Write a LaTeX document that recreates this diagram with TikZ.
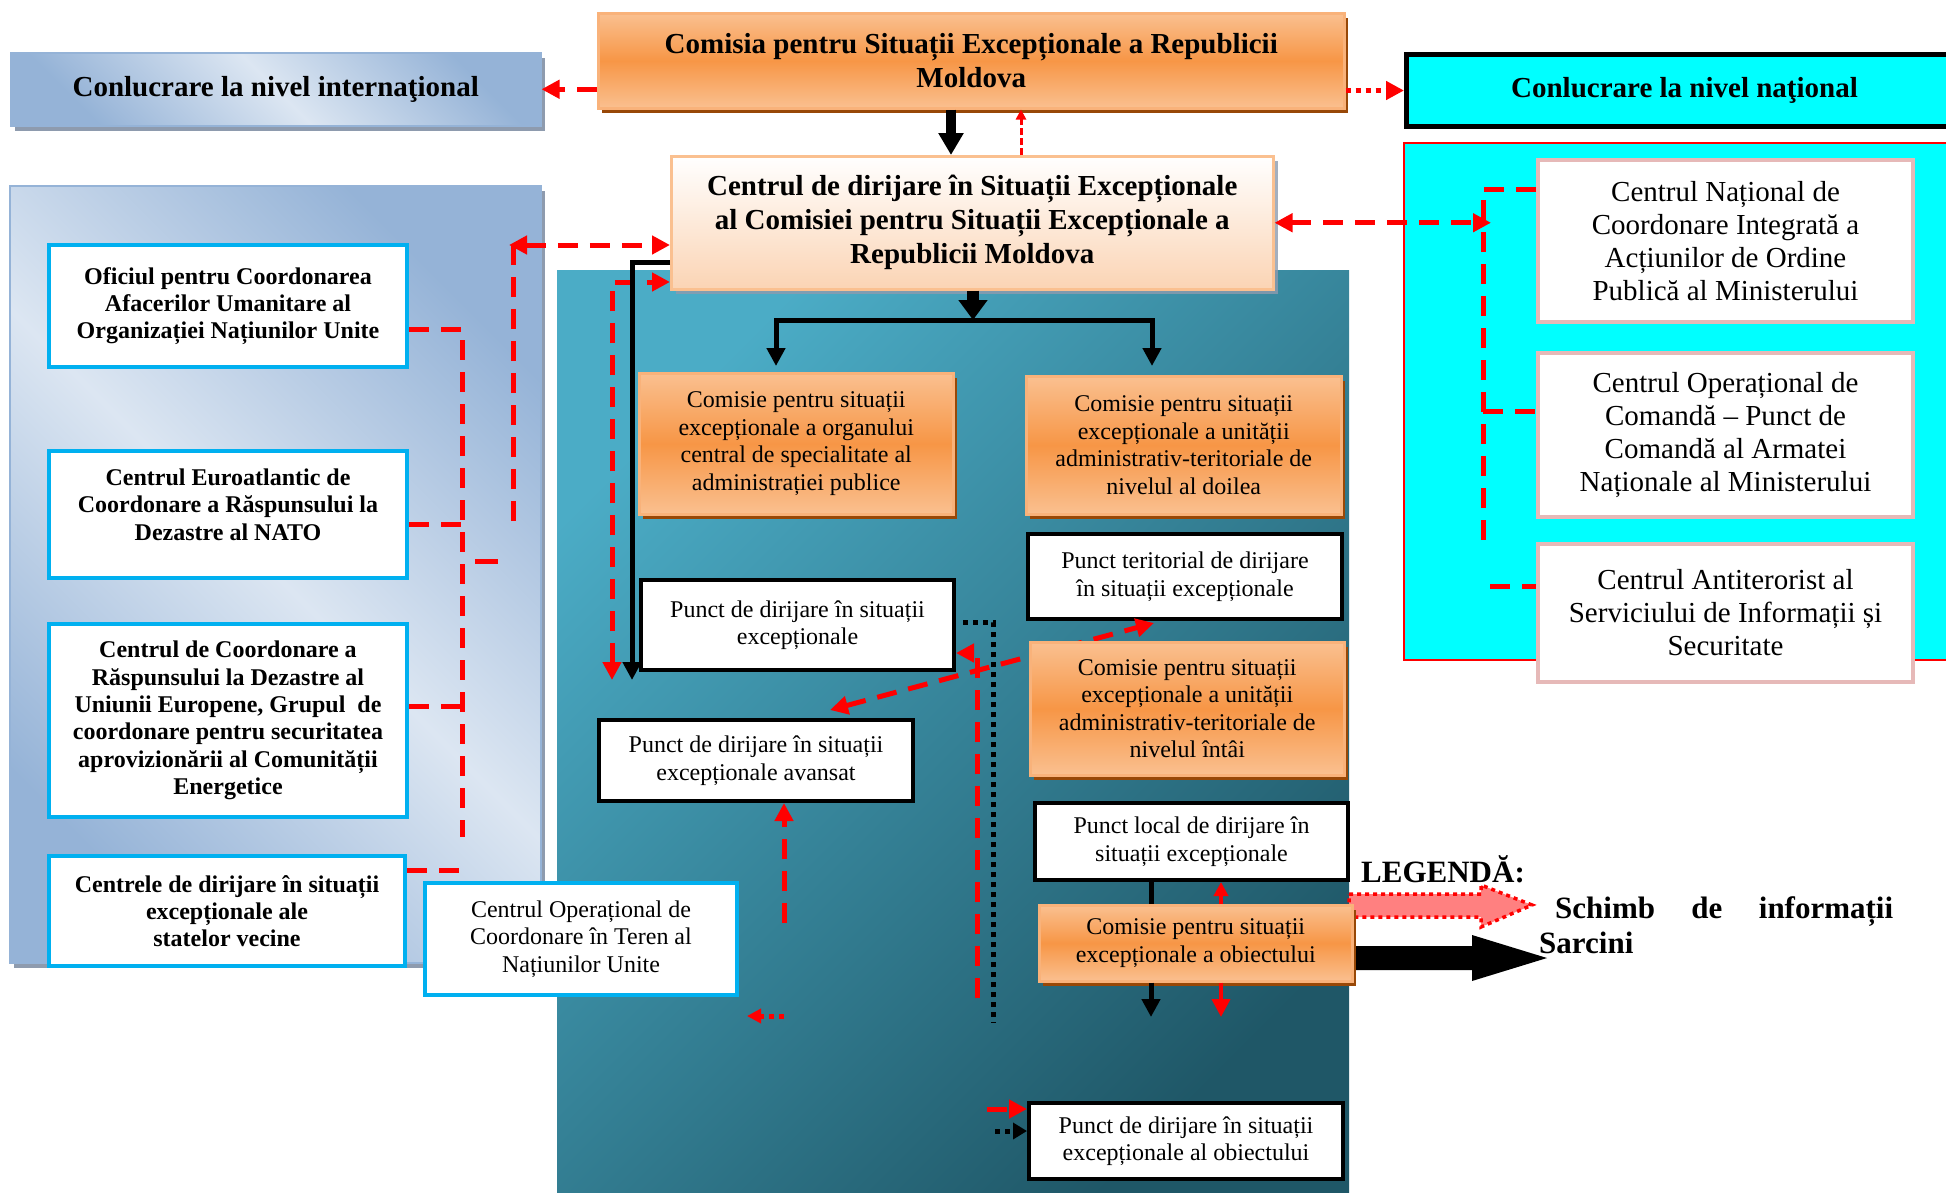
\documentclass[tikz,border=0pt]{standalone}
\usepackage{fontspec}
\setmainfont{Liberation Serif}
\usetikzlibrary{arrows.meta,shadows,calc}
\definecolor{orMid}{HTML}{F79646}
\definecolor{orLight}{HTML}{FAC090}
\definecolor{orLine}{HTML}{F9B27A}
\definecolor{orShadow}{HTML}{984807}
\definecolor{peach}{HTML}{FBD4B4}
\definecolor{bluD}{HTML}{95B3D7}
\definecolor{bluL}{HTML}{DCE6F2}
\definecolor{tealL}{HTML}{4BACC6}
\definecolor{tealD}{HTML}{1F5767}
\definecolor{skyb}{HTML}{00B0F0}
\definecolor{pinkb}{HTML}{E6B9B8}
\definecolor{legred}{HTML}{FF8080}
\definecolor{cyanF}{HTML}{00FFFF}
\definecolor{shadowG}{HTML}{8E9BAE}
\newcommand\myfA{\fontsize{29}{34}\selectfont\bfseries}
\newcommand\myfB{\fontsize{24}{27.5}\selectfont}
\newcommand\myfBb{\fontsize{24}{27.3}\selectfont\bfseries}
\newcommand\myfC{\fontsize{29}{33}\selectfont}
\newcommand\myfL{\fontsize{31}{36}\selectfont\bfseries}
\begin{document}
\begin{tikzpicture}[x=1pt,y=-1pt,
  >={Triangle[length=18pt,width=18pt]},
  every node/.style={inner sep=2pt, align=center},
  nw/.style={anchor=north west},
  orbox/.style={nw, draw=orLine, line width=2.5pt, top color=orLight, bottom color=orLight, middle color=orMid,
     drop shadow={shadow xshift=4pt, shadow yshift=-5pt, fill=orShadow, opacity=1}, font=\myfB},
  whbox/.style={nw, draw=black, line width=4pt, fill=white, font=\myfB},
  skybox/.style={nw, draw=skyb, line width=4pt, fill=white, font=\myfBb},
  pinkbox/.style={nw, draw=pinkb, line width=4pt, fill=white, font=\myfC},
  rdash/.style={draw=red, line width=5pt, dash pattern=on 20pt off 12pt},
  rdot/.style={draw=red, line width=5pt, dash pattern=on 5pt off 5pt},
  kdot/.style={draw=black, line width=5pt, dash pattern=on 5pt off 5pt},
  bluegrad/.style={draw=bluD, line width=1.5pt, top color=bluD, bottom color=bluD, middle color=bluL, shading angle=-45,
     drop shadow={shadow xshift=4pt, shadow yshift=-5pt, fill=shadowG, opacity=1}}
]
\useasboundingbox (0,0) rectangle (1946,1192);
\clip (0,0) rectangle (1946,1192);
\fill[white] (0,0) rectangle (1946,1192);

% regions
\path[top color=tealL, bottom color=tealD, shading angle=45] (557,270) rectangle (1349,1200);
\path[bluegrad] (10,186) rectangle (541,963);
\path[draw=red, line width=2pt, fill=cyanF] (1404,143) rectangle (1960,660);

% top row
\node[nw, bluegrad, minimum width=530pt, minimum height=73pt, font=\myfA] (intl) at (10,52) {Conlucrare la nivel internaţional};
\node[orbox, minimum width=746pt, minimum height=95pt, font=\myfA] (com) at (597,12) {Comisia pentru Situații Excepționale a Republicii\\Moldova};
\node[nw, draw=black, line width=5pt, fill=cyanF, minimum width=556pt, minimum height=72pt, font=\myfA] (nat) at (1404,52) {Conlucrare la nivel naţional};
\node[nw, draw=orLight, line width=2.5pt, top color=white, bottom color=peach,
  drop shadow={shadow xshift=5pt, shadow yshift=-5pt, fill=shadowG, opacity=0.8},
  minimum width=602pt, minimum height=133pt, font=\myfA] (cen) at (670,155)
  {Centrul de dirijare în Situații Excepționale\\al Comisiei pentru Situații Excepționale a\\Republicii Moldova};

% national boxes
\node[pinkbox, minimum width=375pt, minimum height=162pt] (n1) at (1536,158) {Centrul Național de\\Coordonare Integrată a\\Acțiunilor de Ordine\\Publică al Ministerului};
\node[pinkbox, minimum width=375pt, minimum height=164pt] (n2) at (1536,351) {Centrul Operațional de\\Comandă – Punct de\\Comandă al Armatei\\Naționale al Ministerului};
\node[pinkbox, minimum width=375pt, minimum height=138pt] (n3) at (1536,542) {Centrul Antiterorist al\\Serviciului de Informații și\\Securitate};

% left boxes
\node[skybox, minimum width=358pt, minimum height=122pt] (l1) at (47,243) {Oficiul pentru Coordonarea\\Afacerilor Umanitare al\\Organizației Națiunilor Unite};
\node[skybox, minimum width=358pt, minimum height=127pt] (l2) at (47,449) {};
\node[font=\myfBb] (l2t) at ($(l2.center)+(0,-10)$) {Centrul Euroatlantic de\\Coordonare a Răspunsului la\\Dezastre al NATO};
\node[skybox, minimum width=358pt, minimum height=193pt] (l3) at (47,622) {Centrul de Coordonare a\\Răspunsului la Dezastre al\\Uniunii Europene, Grupul\ \ de\\coordonare pentru securitatea\\aprovizionării al Comunității\\Energetice};
\node[skybox, minimum width=356pt, minimum height=110pt] (l4) at (47,854) {Centrele de dirijare în situații\\excepționale ale\\statelor vecine};

% left connectors
\draw[rdash] (l1.east |- 0,329) -- (462,329) -- (462,837);
\draw[rdash] (l2.east |- 0,524) -- (462,524);
\draw[rdash] (l3.east |- 0,706) -- (464,706);
\draw[rdash] (l4.east |- 0,870) -- (462,870);
\draw[red, line width=5pt] (475,561) -- (498,561);
\draw[rdash] (513,521) -- (513,245);
\draw[rdash,<->] (509,245) -- (cen.west |- 0,245);
\draw[rdash,<->] (612,680) -- (612,282) -- (cen.west |- 0,282);
\draw[line width=5pt,->] (cen.west |- 0,262) -- (632,262) -- (632,680);

% top connectors
\draw[rdash,->] (com.west |- intl.east) -- (intl.east);
\draw[rdot,->] (com.east |- nat.west) -- (nat.west);
\draw[line width=10pt,-{Triangle[length=22pt,width=24pt]}] (com.south -| 951,0) -- (cen.north -| 951,0);
\draw[red, line width=3pt, dash pattern=on 7pt off 3pt, -{Triangle[length=10pt,width=10pt]}] (cen.north -| 1021,0) -- (com.south -| 1021,0);
\draw[rdash,<->] (cen.east) -- (1491,0 |- cen.east);
\draw[rdash] (n1.west |- 0,189) -- (1483,189) -- (1483,548);
\draw[rdash] (1483,411) -- (n2.west |- 0,411);
\draw[rdash] (1490,586) -- (n3.west |- 0,586);

% tree
\draw[line width=12pt,-{Triangle[length=20pt,width=28pt]}] (cen.south -| 973,0) -- (973,320);
\draw[line width=5pt,<->] (776,366) -- (776,320) -- (1152,320) -- (1152,366);

% teal boxes
\node[orbox, minimum width=314pt, minimum height=141pt] (o1) at (638,372) {Comisie pentru situații\\excepționale a organului\\central de specialitate al\\administrației publice};
\node[orbox, minimum width=315pt, minimum height=138pt] (o2) at (1025,375) {Comisie pentru situații\\excepționale a unității\\administrativ-teritoriale de\\nivelul al doilea};
\node[whbox, minimum width=314pt, minimum height=85pt] (w1) at (1026,532) {Punct teritorial de dirijare\\în situații excepționale};
\draw[rdash,<->] (830,710) -- (1154,623);
\node[orbox, minimum width=314pt, minimum height=133pt] (o3) at (1029,641) {Comisie pentru situații\\excepționale a unității\\administrativ-teritoriale de\\nivelul întâi};
\node[whbox, minimum width=313pt, minimum height=90pt] (w2) at (639,578) {Punct de dirijare în situații\\excepționale};
\node[whbox, minimum width=314pt, minimum height=81pt] (w3) at (597,718) {Punct de dirijare în situații\\excepționale avansat};
\node[whbox, minimum width=313pt, minimum height=77pt] (w4) at (1033,801) {Punct local de dirijare în\\situații excepționale};

% legend arrows (behind O4)
\path[draw=red, line width=3.5pt, dash pattern=on 4pt off 4pt, fill=legred]
  (1349,894) -- (1481,894) -- (1481,885) -- (1532,905) -- (1481,927) -- (1481,917) -- (1349,917) -- cycle;
\fill[black] (1354,946) -- (1472,946) -- (1472,935) -- (1547,958) -- (1472,981) -- (1472,970) -- (1354,970) -- cycle;

\node[orbox, minimum width=313pt, minimum height=76pt] (o4) at (1038,904) {Comisie pentru situații\\excepționale a obiectului};
\node[whbox, minimum width=314pt, minimum height=76pt] (w5) at (1027,1101) {Punct de dirijare în situații\\excepționale al obiectului};
\node[nw, draw=skyb, line width=4pt, fill=white, font=\myfB, minimum width=312pt, minimum height=112pt] (teren) at (423,881) {Centrul Operațional de\\Coordonare în Teren al\\Națiunilor Unite};

% teal connectors
\draw[rdash,->] (977,998) -- (977,653) -- (w2.east |- 0,653);
\draw[kdot] (963,622) -- (993,622) -- (993,1023);
\draw[rdash,->] (784,923) -- (w3.south -| 784,0);
\draw[rdot,-{Triangle[length=14pt,width=14pt]}] (784,1016) -- (747,1016);
\draw[rdash,->] (987,1109) -- (w5.west |- 0,1109);
\draw[kdot,-{Triangle[length=14pt,width=16pt]}] (995,1131) -- (w5.west |- 0,1131);
\draw[line width=5pt] (w4.south -| 1151,0) -- (o4.north -| 1151,0);
\draw[red, line width=4pt, -{Triangle[length=14pt,width=14pt]}] (o4.north -| 1221,0) -- (w4.south -| 1221,0);
\draw[line width=5pt,->] (o4.south -| 1151,0) -- (1151,1017);
\draw[red, line width=4pt,->] (o4.south -| 1221,0) -- (1221,1017);

% legend text
\node[anchor=base west, inner sep=0, font=\myfL] (leg) at (1361,882) {LEGENDĂ:};
\node[anchor=base west, inner sep=0, font=\myfL] (leg1) at (1555,918) {\makebox[338pt][s]{Schimb de informații}};
\node[anchor=base west, inner sep=0, font=\myfL] (leg2) at (1539,953) {Sarcini};
\end{tikzpicture}
\end{document}
